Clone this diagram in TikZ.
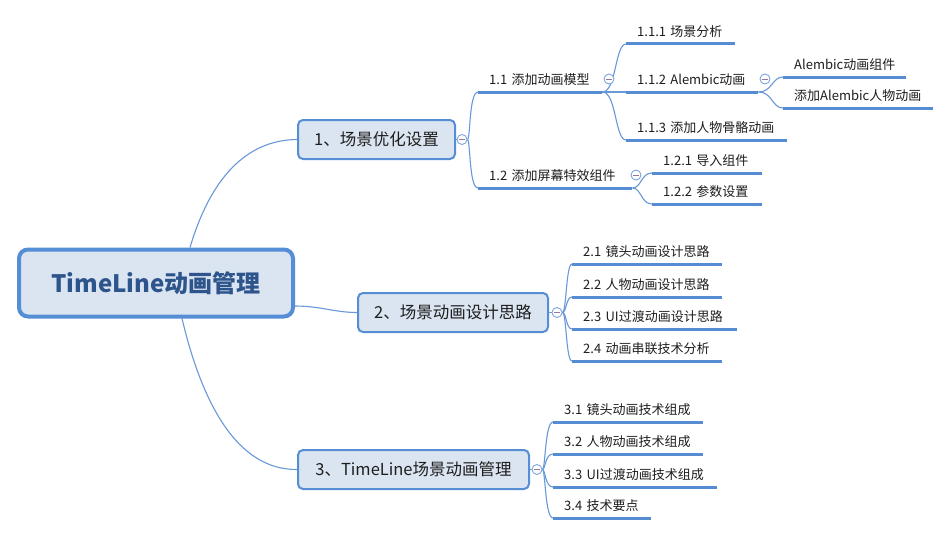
\documentclass[tikz,border=0pt]{standalone}
\usepackage{fontspec}
\usetikzlibrary{backgrounds}
\setmainfont{Noto Sans CJK SC}
\newcommand{\fsz}[1]{\fontsize{#1}{#1}\selectfont}
\definecolor{lineblue}{RGB}{105,152,216}
\definecolor{ulblue}{RGB}{85,140,210}
\definecolor{nodefill}{RGB}{219,229,241}
\definecolor{nodeborder}{RGB}{85,142,213}
\definecolor{roottext}{RGB}{46,84,140}
\definecolor{txt}{RGB}{30,30,30}
\definecolor{foldblue}{RGB}{125,165,222}
\definecolor{foldminus}{RGB}{150,120,150}
\newcommand{\mysub}[5]{%
  \pgfmathsetmacro\mytw{#3-#2-22}%
  \node[sub, text width=\mytw pt] (#1) at (#2,#4) {#5};}
\begin{document}
\begin{tikzpicture}[x=1pt,y=-1pt,
 root/.style={draw=nodeborder, line width=4pt, fill=nodefill, rounded corners=9pt,
   minimum width=274pt, minimum height=67pt, inner sep=0pt, font=\fsz{24}\bfseries, text=roottext},
 topic/.style={draw=nodeborder, line width=2pt, fill=nodefill, rounded corners=5pt,
   minimum height=39pt, inner sep=0pt, font=\fsz{16.5}, text=txt},
 sub/.style={anchor=south west, inner xsep=11pt, inner ysep=5pt, text height=9.5pt,
   text depth=2.5pt, font=\fsz{13}, text=txt, align=left},
 uline/.style={draw=ulblue, line width=3pt},
 link/.style={draw=lineblue, line width=1.1pt},
 fold/.style={circle, draw=foldblue, fill=white, line width=0.9pt, minimum size=10pt,
   inner sep=0pt, path picture={\draw[foldminus, line width=0.8pt]
   ([xshift=-2.8pt]path picture bounding box.center) -- ([xshift=2.8pt]path picture bounding box.center);}},
]
\useasboundingbox (0,0) rectangle (950,535);
\begin{scope}[on background layer]
  \fill[white] (0,0) rectangle (950,535);
\end{scope}

% main nodes
\node[root] (root) at (156,283) {TimeLine动画管理};
\node[topic, minimum width=157pt] (t1) at (376.5,139.5) {1、场景优化设置};
\node[topic, minimum width=190pt] (t2) at (453,312.5) {2、场景动画设计思路};
\node[topic, minimum width=231pt] (t3) at (413.5,469.5) {3、TimeLine场景动画管理};

% sub items
\mysub{n11}{478}{602}{92}{1.1 添加动画模型}
\mysub{n12}{478}{632}{188}{1.2 添加屏幕特效组件}
\mysub{n111}{626}{735}{44}{1.1.1 场景分析}
\mysub{n112}{626}{758}{92}{1.1.2 Alembic动画}
\mysub{n113}{626}{787}{140}{1.1.3 添加人物骨骼动画}
\mysub{na1}{783}{906}{77}{Alembic动画组件}
\mysub{na2}{783}{933}{108}{添加Alembic人物动画}
\mysub{n121}{652}{762}{173}{1.2.1 导入组件}
\mysub{n122}{652}{762}{204}{1.2.2 参数设置}
\mysub{n21}{572}{722}{264}{2.1 镜头动画设计思路}
\mysub{n22}{572}{722}{297}{2.2 人物动画设计思路}
\mysub{n23}{572}{737}{329}{2.3 UI过渡动画设计思路}
\mysub{n24}{572}{722}{361}{2.4 动画串联技术分析}
\mysub{n31}{553}{703}{422}{3.1 镜头动画技术组成}
\mysub{n32}{553}{703}{454}{3.2 人物动画技术组成}
\mysub{n33}{553}{717}{487}{3.3 UI过渡动画技术组成}
\mysub{n34}{553}{651}{518}{3.4 技术要点}

% fold buttons
\node[fold] (c1) at ([xshift=6pt]t1.east) {};
\node[fold] (c2) at ([xshift=8pt]t2.east) {};
\node[fold] (c3) at ([xshift=7pt]t3.east) {};
\node[fold] (c11) at (609,79) {};
\node[fold] (c112) at (765,79) {};
\node[fold] (c12) at (636,175) {};

\begin{scope}[on background layer]
% root links
\draw[link] ([xshift=34pt]root.north) .. controls (210,180) and (245,140) .. (t1.west);
\draw[link] ([yshift=-23pt]root.east) .. controls (320,306) and (335,312.5) .. (t2.west);
\draw[link] ([xshift=26pt]root.south) .. controls (202,403) and (237,470) .. (t3.west);

% branch links
\draw[link] (t1.east) -- (c1.west);
\draw[link] (c1.east) .. controls +(3,0) and +(-9,0) .. (n11.south west);
\draw[link] (c1.east) .. controls +(3,0) and +(-9,0) .. (n12.south west);

\draw[link] (n11.south east) .. controls +(14,0) and +(-11,0) .. (n111.south west);
\draw[link] (n11.south east) -- (n112.south west);
\draw[link] (n11.south east) .. controls +(14,0) and +(-11,0) .. (n113.south west);

\draw[link] (n112.south east) .. controls +(14,0) and +(-11,0) .. (na1.south west);
\draw[link] (n112.south east) .. controls +(14,0) and +(-11,0) .. (na2.south west);

\draw[link] (n12.south east) .. controls +(9,0) and +(-11,0) .. (n121.south west);
\draw[link] (n12.south east) .. controls +(9,0) and +(-11,0) .. (n122.south west);

\draw[link] (t2.east) -- (c2.west);
\foreach \n in {n21,n22,n23,n24}
  \draw[link] (c2.east) .. controls +(4,0) and +(-6,0) .. (\n.south west);

\draw[link] (t3.east) -- (c3.west);
\foreach \n in {n31,n32,n33,n34}
  \draw[link] (c3.east) .. controls +(3,0) and +(-8,0) .. (\n.south west);
\end{scope}

% underlines
\foreach \n in {n11,n12,n111,n112,n113,na1,na2,n121,n122,n21,n22,n23,n24,n31,n32,n33,n34}
  \draw[uline] (\n.south west) -- (\n.south east);
\end{tikzpicture}
\end{document}
